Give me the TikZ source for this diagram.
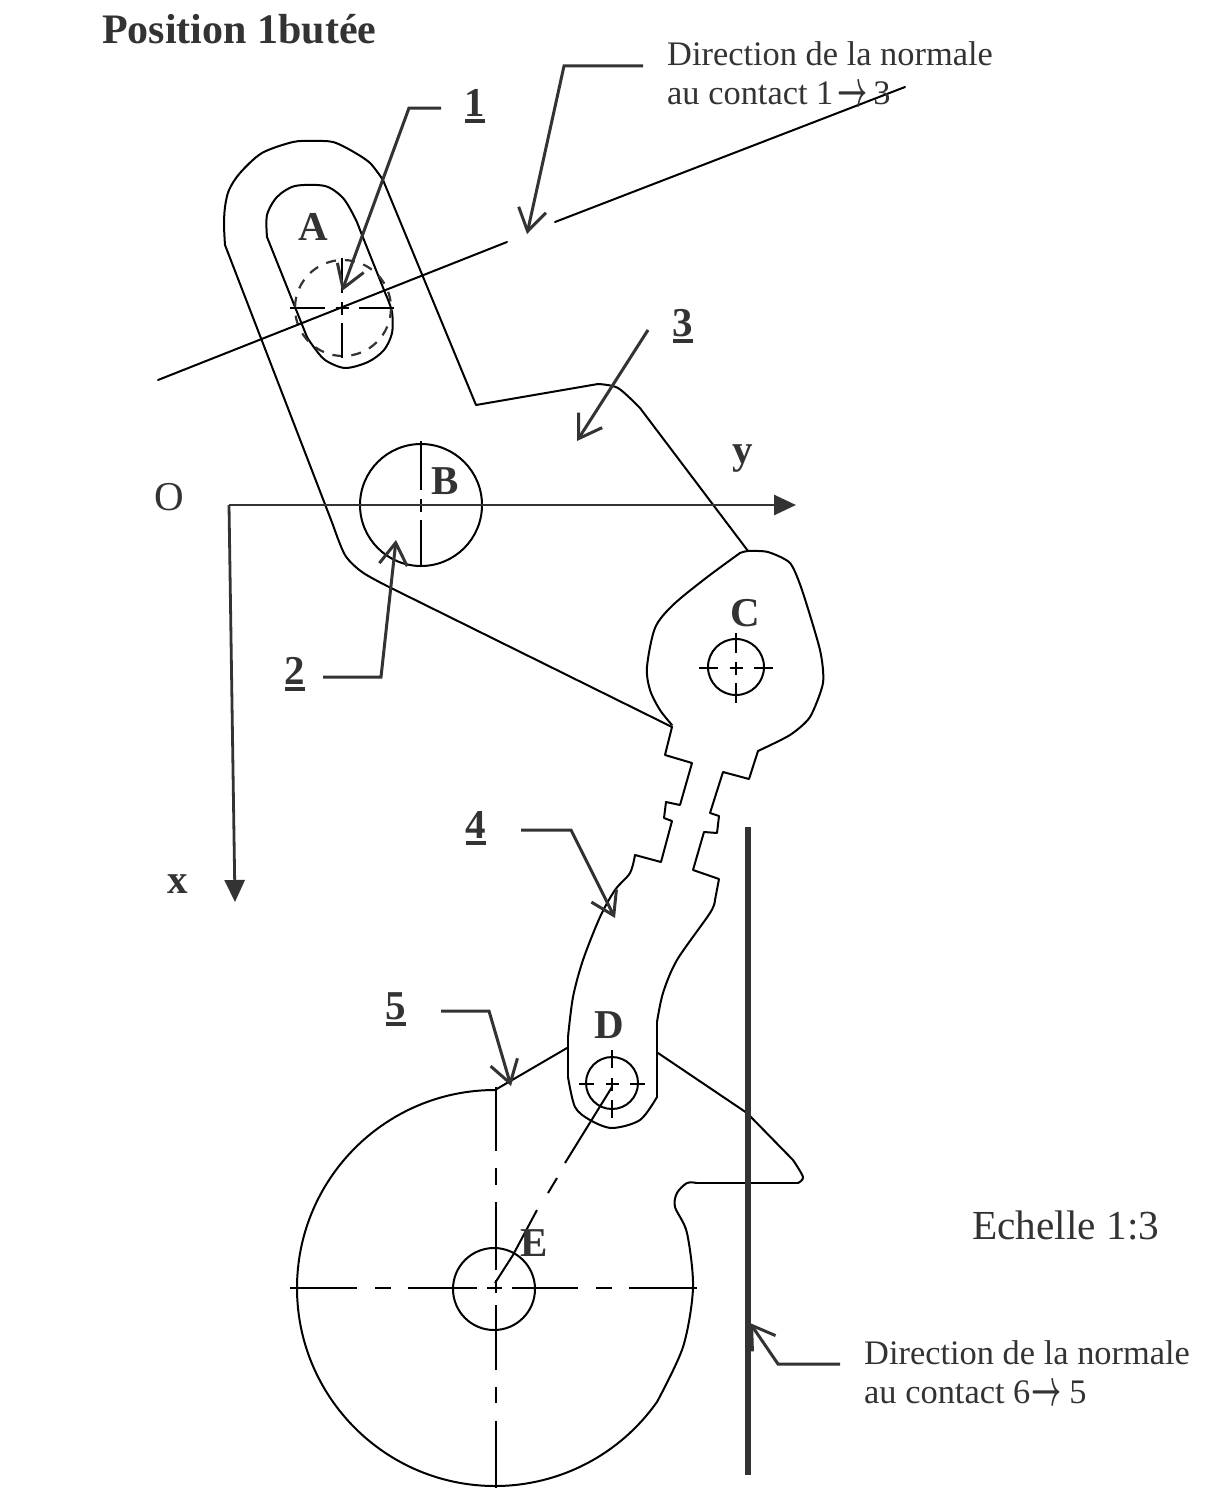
\documentclass[tikz,border=0pt]{standalone}
\usepackage{fontspec}
\usepackage{graphicx}
\setmainfont{Liberation Serif}
\usetikzlibrary{arrows.meta}
\definecolor{ink}{HTML}{333333}
\tikzset{
  outline/.style={draw=black,line width=2pt,line join=round,line cap=round},
  axisline/.style={draw=ink,line width=2.8pt,-{Triangle[length=22pt,width=20pt,fill=ink]}},
  leader/.style={draw=ink,line width=3pt,line join=miter,-{Straight Barb[length=22pt,width=28pt,line width=3pt]}},
  thickline/.style={draw=ink,line width=5.5pt},
  axisdash/.style={draw=black,line width=2pt},
  letter/.style={text=ink,font=\bfseries\fontsize{41}{41}\selectfont,inner sep=0pt},
  mark num/.style={text=ink,font=\bfseries\fontsize{41}{41}\selectfont,inner sep=0pt},
  note/.style={text=ink,font=\fontsize{34.4}{39}\selectfont,align=left,anchor=north west,inner sep=0pt},
}
\newcommand{\crosshair}[6]{%
  \draw[axisdash] (#1-#3,#2) -- (#1-#4,#2) (#1-6.5,#2) -- (#1+6.5,#2) (#1+#4,#2) -- (#1+#3,#2)
    (#1,#2-#5) -- (#1,#2-#6) (#1,#2-6.5) -- (#1,#2+6.5) (#1,#2+#6) -- (#1,#2+#5);
}
\newcommand{\numul}[1]{\setbox0=\hbox{#1}\hbox{\rlap{\smash{\raisebox{-6.5pt}{\rule{\wd0}{3.6pt}}}}\box0}}
\newcommand{\arrowglyph}[2]{\kern#1pt{\fontsize{28}{39}\selectfont\boldmath\smash{\raisebox{-2pt}{\scalebox{1.05}[2.1]{$\rightarrow$}}}}\kern#2pt}
\begin{document}
\begin{tikzpicture}[x=1pt,y=-1pt]
\useasboundingbox (0,0) rectangle (1211,1512);
\fill[white] (0,0) rectangle (1211,1512);

% part 3 outer contour
\draw[outline] plot[smooth,tension=.5] coordinates {(383,180) (370,163) (352,151) (333,142) (313,141) (293,142) (262,153) (240,173) (229,190) (225,207) (224,225) (225,245)};
\draw[outline] (383,180) -- (476,405) -- (598,384);
\draw[outline] plot[smooth,tension=.5] coordinates {(598,384) (618,388) (640,408)};
\draw[outline] (640,408) -- (748,551);
\draw[outline] (225,245) -- (333,525);
\draw[outline] plot[smooth,tension=.5] coordinates {(333,525) (345,555) (362,572) (387,586)};
\draw[outline] (387,586) -- (672,727);

% slot
\draw[outline] plot[smooth,tension=.5] coordinates {(267,237) (267,215) (277,197) (295,186) (325,186) (343,198) (355,218) (360,230)};
\draw[outline] (360,230) -- (386,295);
\draw[outline] plot[smooth,tension=.5] coordinates {(386,295) (392,312) (392,333) (384,350) (368,362) (345,368) (325,360) (313,346) (307,337)};
\draw[outline] (307,337) -- (267,237);

% pin in slot
\draw[draw=ink,line width=2.2pt,dash pattern=on 10pt off 9pt] (343,308) circle[radius=48];
\crosshair{342}{308}{52}{17}{50}{15}

% normal 1->3
\coordinate (n1) at (158,380);
\coordinate (n2) at (507,242);
\coordinate (n3) at (555,222);
\coordinate (n4) at (905,87);
\draw[outline] (n1) -- (n2) (n3) -- (n4);

% circle B
\draw[outline] (421,505) circle[radius=61];
\draw[axisdash] (421,441) -- (421,490) (421,499) -- (421,512) (415,505) -- (428,505) (421,520) -- (421,567);

% axes
\coordinate (O) at (229,505);
\coordinate (Y) at (796,505);
\coordinate (X) at (235,902);
\draw[axisline] (O) -- (Y);
\draw[axisline] (O) -- (X);

% link 4 with head C
\draw[outline] plot[smooth,tension=.4] coordinates {(740,553) (748,551) (768,552) (790,563) (802,590) (820,650) (823,683) (810,717) (790,735) (758,751)};
\draw[outline] (758,751) -- (749,779) -- (723,772) -- (710,813) -- (719,816) -- (717,833) -- (704,832) -- (693,870) -- (719,879) -- (715,900);
\draw[outline] plot[smooth,tension=.5] coordinates {(715,900) (710,913) (677,960) (663,993) (657,1022)};
\draw[outline] (657,1022) -- (657,1097);
\draw[outline] plot[smooth,tension=.5] coordinates {(657,1097) (640,1120) (612,1128) (590,1120) (575,1107) (568,1077)};
\draw[outline] (568,1077) -- (568,1037);
\draw[outline] plot[smooth,tension=.5] coordinates {(568,1037) (573,997) (583,960) (600,917) (615,890) (630,873) (635,855)};
\draw[outline] (635,855) -- (661,862) -- (672,821) -- (664,818) -- (666,802) -- (680,805) -- (692,763) -- (665,755) -- (672,727);
\draw[outline] plot[smooth,tension=.5] coordinates {(672,725) (660,710) (650,690) (647,667) (655,628) (673,605) (706,578) (740,553)};

% pin C, pin D
\draw[outline] (736,667) circle[radius=28];
\crosshair{736}{668}{37}{18}{35}{15}
\draw[outline] (612,1083) circle[radius=26];
\crosshair{612}{1084}{33}{18}{34}{16}

% cam 5
\draw[outline] (495,1090) arc[start angle=270,end angle=35,radius=198];
\draw[outline] plot[smooth,tension=.5] coordinates {(657,1402) (683,1347) (693,1288) (687,1233) (675,1207) (677,1193) (687,1183) (697,1183)};
\draw[outline] (697,1183) -- (798,1183);
\draw[outline] plot[smooth,tension=.5] coordinates {(798,1183) (803,1177) (793,1160)};
\draw[outline] (793,1160) -- (747,1113) -- (658,1053);
\draw[outline] (495,1090) -- (567,1048);
\draw[outline] (494,1289) circle[radius=41];

% centre lines
\draw[axisdash] (290,1288) -- (357,1288) (375,1288) -- (391,1288) (408,1288) -- (477,1288) (487,1288) -- (502,1288)
  (512,1288) -- (578,1288) (596,1288) -- (612,1288) (629,1288) -- (697,1288);
\draw[axisdash] (495.5,1087) -- (495.5,1151) (495.5,1168) -- (495.5,1185) (495.5,1202) -- (495.5,1270) (495.5,1280) -- (495.5,1293)
  (495.5,1305) -- (495.5,1370) (495.5,1387) -- (495.5,1403) (495.5,1421) -- (495.5,1488);
% line ED
\draw[axisdash] (612,1087) -- (565,1163) (557,1178) -- (548,1193) (537,1210) -- (513,1255) -- (495,1283);

% thick normal 6->5
\coordinate (t1) at (748,827);
\coordinate (t2) at (748,1475);
\draw[thickline] (t1) -- (t2);

% labels
\node[text=ink,font=\bfseries\fontsize{42}{42}\selectfont,anchor=west,inner sep=0pt] (title) at (102,29) {Position 1butée};
\node[note] (note13) at (667,41) {Direction de la normale\\au contact 1\arrowglyph{4}{6} 3};
\node[note] (note65) at (864,1340) {Direction de la normale\\au contact 6\arrowglyph{1}{8} 5};
\node[text=ink,font=\fontsize{41.3}{41}\selectfont,anchor=west,inner sep=0pt] (scale) at (972,1225) {Echelle 1:3};
\node[text=ink,font=\fontsize{41}{41}\selectfont,inner sep=0pt] (o) at (169,497) {O};
\node[letter] (y) at (743,459) {y};
\node[letter] (x) at (178,884) {x};
\node[letter] (A) at (313,227) {A};
\node[letter] (B) at (445,481) {B};
\node[letter] (C) at (745,613) {C};
\node[letter] (D) at (609,1025) {D};
\node[letter] (E) at (534,1243) {E};
\node[mark num] (m1) at (475,103) {\numul{1}};
\node[mark num] (m2) at (295,671) {\numul{2}};
\node[mark num] (m3) at (683,323) {\numul{3}};
\node[mark num] (m4) at (476,825) {\numul{4}};
\node[mark num] (m5) at (396,1006) {\numul{5}};

% leaders
\coordinate (a1) at (342,291);
\coordinate (a2) at (396,540);
\coordinate (a3) at (577,441);
\coordinate (a4) at (615,918);
\coordinate (a5) at (511,1086);
\coordinate (a6) at (750,1323);
\coordinate (a7) at (527,234);
\draw[leader] (441,108) -- (409,108) -- (a1);
\draw[leader] (323,677) -- (381,677) -- (a2);
\draw[leader] (648,330) -- (a3);
\draw[leader] (521,830) -- (571,830) -- (a4);
\draw[leader] (441,1011) -- (489,1011) -- (a5);
\draw[leader] (840,1364) -- (778,1364) -- (a6);
\draw[leader] (643,66) -- (564,66) -- (a7);
\end{tikzpicture}
\end{document}
